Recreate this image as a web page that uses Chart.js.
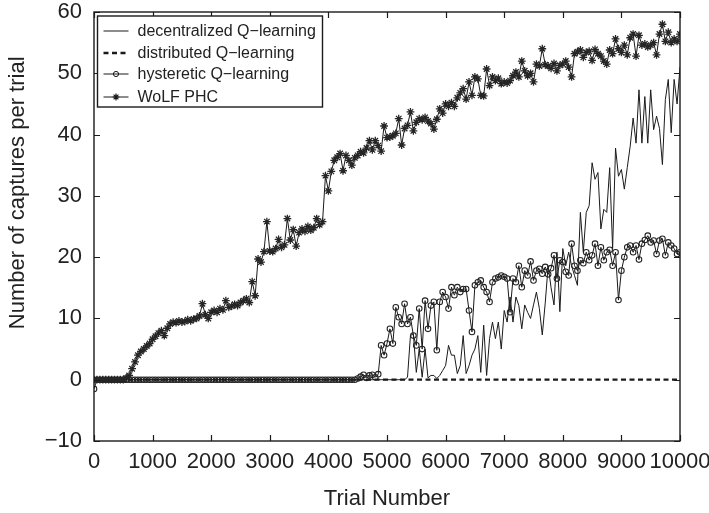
<!DOCTYPE html>
<html><head><meta charset="utf-8">
<script src="https://cdn.jsdelivr.net/npm/chart.js@4/dist/chart.umd.min.js"></script>
<style>html,body{margin:0;padding:0;background:#fff}canvas{display:block}</style>
</head><body>
<canvas id="c" width="709" height="513"></canvas>
<script>
const trials = [
0,50,100,150,200,250,300,350,400,450,500,
550,600,650,700,750,800,850,900,950,1000,
1050,1100,1150,1200,1250,1300,1350,1400,1450,1500,
1550,1600,1650,1700,1750,1800,1850,1900,1950,2000,
2050,2100,2150,2200,2250,2300,2350,2400,2450,2500,
2550,2600,2650,2700,2750,2800,2850,2900,2950,3000,
3050,3100,3150,3200,3250,3300,3350,3400,3450,3500,
3550,3600,3650,3700,3750,3800,3850,3900,3950,4000,
4050,4100,4150,4200,4250,4300,4350,4400,4450,4500,
4550,4600,4650,4700,4750,4800,4850,4900,4950,5000,
5050,5100,5150,5200,5250,5300,5350,5400,5450,5500,
5550,5600,5650,5700,5750,5800,5850,5900,5950,6000,
6050,6100,6150,6200,6250,6300,6350,6400,6450,6500,
6550,6600,6650,6700,6750,6800,6850,6900,6950,7000,
7050,7100,7150,7200,7250,7300,7350,7400,7450,7500,
7550,7600,7650,7700,7750,7800,7850,7900,7950,8000,
8050,8100,8150,8200,8250,8300,8350,8400,8450,8500,
8550,8600,8650,8700,8750,8800,8850,8900,8950,9000,
9050,9100,9150,9200,9250,9300,9350,9400,9450,9500,
9550,9600,9650,9700,9750,9800,9850,9900,9950,10000];

const decentralized = [
0,0,0,0,0,0,0,0,0,0,0,
0,0,0,0,0,0,0,0,0,0,
0,0,0,0,0,0,0,0,0,0,
0,0,0,0,0,0,0,0,0,0,
0,0,0,0,0,0,0,0,0,0,
0,0,0,0,0,0,0,0,0,0,
0,0,0,0,0,0,0,0,0,0,
0,0,0,0,0,0,0,0,0,0,
0,0,0,0,0,0,0,0,0,0,
0,0,0,0,0,0,0,0,0,0,
0,0,0,0,0,0,0.4,7.2,7.5,1.2,
5.0,0.4,5.0,0.3,0.7,0.7,0.2,0.7,1.5,2.3,
5.6,4.0,4.0,1.0,2.3,7.2,1.0,2.3,4.0,5.0,
7.2,1.2,8.9,0.7,6.7,9.4,6.7,9.4,5.0,11.3,
9.4,13.5,9.4,13.5,12.1,8.3,12.2,11.0,10.0,12.2,
14.3,11.6,7.3,12.5,18.6,15.0,12.2,20.8,11.1,21.4,
18.6,20.8,18.6,17.0,15.4,27.3,20.8,27.3,28.4,35.4,
32.7,33.8,24.6,27.8,27.3,34.6,21.4,37.8,33.2,34.3,
31.1,34.6,38.1,42.7,38.6,47.3,38.6,46.2,38.6,47.3,
40.8,43.0,41.0,35.1,45.7,49.0,40.3,49.0,45.0,51.0];

const distributed = [
0,0,0,0,0,0,0,0,0,0,0,
0,0,0,0,0,0,0,0,0,0,
0,0,0,0,0,0,0,0,0,0,
0,0,0,0,0,0,0,0,0,0,
0,0,0,0,0,0,0,0,0,0,
0,0,0,0,0,0,0,0,0,0,
0,0,0,0,0,0,0,0,0,0,
0,0,0,0,0,0,0,0,0,0,
0,0,0,0,0,0,0,0,0,0,
0,0,0,0,0,0,0,0,0,0,
0,0,0,0,0,0,0,0,0,0,
0,0,0,0,0,0,0,0,0,0,
0,0,0,0,0,0,0,0,0,0,
0,0,0,0,0,0,0,0,0,0,
0,0,0,0,0,0,0,0,0,0,
0,0,0,0,0,0,0,0,0,0,
0,0,0,0,0,0,0,0,0,0,
0,0,0,0,0,0,0,0,0,0,
0,0,0,0,0,0,0,0,0,0,
0,0,0,0,0,0,0,0,0,0];

const hysteretic = [
-1.5,0,0,0,0,0,0,0,0,0,0,
0,0,0,0,0,0,0,0,0,0,
0,0,0,0,0,0,0,0,0,0,
0,0,0,0,0,0,0,0,0,0,
0,0,0,0,0,0,0,0,0,0,
0,0,0,0,0,0,0,0,0,0,
0,0,0,0,0,0,0,0,0,0,
0,0,0,0,0,0,0,0,0,0,
0,0,0,0,0,0,0,0,0,0.2,
0.5,0.8,0.3,0.7,0.8,0.4,0.9,5.6,4.0,5.9,
8.3,5.9,11.8,10.2,9.1,12.4,9.1,10.2,7.2,5.6,
11.6,5.0,12.9,8.3,12.1,12.7,4.8,12.7,14.3,13.5,
11.6,15.1,13.8,15.1,14.3,14.8,14.8,11.3,7.8,15.4,
15.9,16.2,15.1,14.3,12.7,15.9,16.5,16.7,17.0,16.8,
16.5,11.0,16.5,15.9,18.6,15.1,17.8,17.0,19.3,16.2,
17.8,18.1,17.3,18.4,17.2,18.2,20.3,16.5,19.5,19.2,
17.6,17.0,22.2,18.6,17.8,19.5,19.0,20.8,19.5,20.3,
22.2,18.6,21.6,19.5,20.8,21.2,18.6,20.8,13.0,17.8,
20.0,21.6,21.9,20.8,21.9,19.6,22.2,22.8,23.5,22.4,
22.7,20.5,22.7,23.0,20.3,22.4,21.9,21.4,20.5,20.8];

const wolfPHC = [
0,0,0,0,0,0,0,0,0,0,0,
0.3,0.7,1.8,2.9,4.0,4.6,5.0,5.5,5.9,6.6,
7.1,7.6,8.0,7.2,8.4,9.1,9.4,9.3,9.6,9.4,
9.5,9.8,9.6,9.9,10.0,10.4,12.4,10.6,10.0,11.0,
11.3,11.0,11.6,11.4,12.9,11.8,12.0,12.3,12.1,12.6,
12.9,13.2,12.6,16.0,13.7,19.7,19.2,20.9,25.8,21.0,
20.9,21.4,22.9,21.6,22.0,26.3,22.8,24.5,21.8,24.0,
24.6,24.2,25.0,24.4,24.8,26.3,25.3,25.8,33.3,30.8,
34.0,35.8,36.3,36.9,34.1,36.6,35.8,35.0,36.2,36.6,
37.2,37.0,37.8,39.0,37.5,39.0,38.2,37.3,41.4,39.5,
39.6,39.8,40.2,42.6,38.3,41.0,41.5,43.7,40.6,42.0,
42.6,42.4,42.8,42.2,41.8,40.9,42.5,44.2,43.5,45.0,
44.6,45.2,44.6,46.0,46.8,47.5,45.8,48.6,46.4,49.4,
49.1,46.4,46.3,50.7,48.0,49.4,48.8,49.2,48.3,48.6,
48.4,48.8,49.6,50.2,49.4,52.0,50.4,49.6,50.0,48.6,
51.5,51.2,54.0,51.4,51.2,50.8,51.6,50.4,51.3,51.5,
52.0,51.0,49.4,53.2,53.5,53.8,52.6,53.4,53.6,52.1,
53.9,53.2,52.8,52.0,51.5,53.8,53.2,55.6,54.0,53.4,
54.6,53.0,55.8,56.4,52.8,56.2,54.6,54.8,54.3,54.6,
55.0,53.0,56.4,58.0,55.2,56.7,55.0,55.6,55.2,56.4];

const seriesNames = ['decentralized Q\u2212learning','distributed Q\u2212learning','hysteretic Q\u2212learning','WoLF PHC'];
const xTitle = 'Trial Number';
const yTitle = 'Number of captures per trial';
const FONT = "'Liberation Sans', Arial, Helvetica, sans-serif";
const INK = '#1a1a1a';

function pts(vals){ return trials.map((t,i)=>({x:t,y:vals[i]})); }

function drawStar(ctx,cx,cy,r){
  ctx.beginPath();
  for(let k=0;k<4;k++){
    const a=k*Math.PI/4;
    ctx.moveTo(cx-r*Math.cos(a),cy-r*Math.sin(a));
    ctx.lineTo(cx+r*Math.cos(a),cy+r*Math.sin(a));
  }
  ctx.stroke();
}

const framePlugin = {
  id:'frame',
  afterDraw(chart){
    const {ctx, chartArea:a, scales:{x,y}} = chart;
    ctx.save();
    ctx.strokeStyle = INK; ctx.lineWidth = 1.4;
    ctx.strokeRect(a.left, a.top, a.right-a.left, a.bottom-a.top);
    const L = 6;
    ctx.beginPath();
    x.ticks.forEach(t=>{const p=Math.round(x.getPixelForValue(t.value))+0.5;
      ctx.moveTo(p,a.bottom); ctx.lineTo(p,a.bottom-L);
      ctx.moveTo(p,a.top); ctx.lineTo(p,a.top+L);});
    y.ticks.forEach(t=>{const p=Math.round(y.getPixelForValue(t.value))+0.5;
      ctx.moveTo(a.left,p); ctx.lineTo(a.left+L,p);
      ctx.moveTo(a.right,p); ctx.lineTo(a.right-L,p);});
    ctx.lineWidth = 1.2;
    ctx.stroke();

    // y axis title
    ctx.save();
    ctx.translate(18, y.getPixelForValue(30.5));
    ctx.rotate(-Math.PI/2);
    ctx.font = "22px " + FONT;
    ctx.fillStyle = '#222';
    ctx.textAlign = 'center'; ctx.textBaseline = 'middle';
    ctx.fillText(yTitle, 0, 0);
    ctx.restore();

    // legend box
    const bx = a.left+3.5, by = a.top+4, bw = 225, bh = 91;
    ctx.fillStyle = '#fff';
    ctx.fillRect(bx,by,bw,bh);
    ctx.lineWidth = 1.4; ctx.strokeStyle = INK;
    ctx.strokeRect(bx,by,bw,bh);
    const rows = [by+15, by+37, by+58, by+81];
    const sx0 = bx+6, sx1 = bx+31, sc = (sx0+sx1)/2;
    ctx.font = "16px " + FONT;
    ctx.textBaseline = 'middle';
    rows.forEach((ry,i)=>{
      ctx.save();
      ctx.strokeStyle = INK;
      if(i===1){ ctx.setLineDash([5,3.5]); ctx.lineWidth = 2.4; }
      else { ctx.lineWidth = 1; }
      ctx.beginPath(); ctx.moveTo(sx0,ry); ctx.lineTo(sx1,ry); ctx.stroke();
      ctx.setLineDash([]);
      if(i===2){ ctx.lineWidth=1; ctx.beginPath(); ctx.arc(sc,ry,2.6,0,Math.PI*2); ctx.stroke(); }
      if(i===3){ ctx.lineWidth=1.2; drawStar(ctx,sc,ry,3.4); }
      ctx.restore();
      ctx.fillStyle = '#222';
      ctx.fillText(seriesNames[i], bx+40, ry+1);
    });
    ctx.restore();
  }
};

new Chart(document.getElementById('c'), {
  type:'line',
  data:{datasets:[
    {label:seriesNames[3], data:pts(wolfPHC), borderColor:INK, borderWidth:1, pointStyle:'star', pointRadius:3.9, pointBorderColor:'#262626', pointBorderWidth:1.3, pointBackgroundColor:'#262626', tension:0},
    {label:seriesNames[2], data:pts(hysteretic), borderColor:INK, borderWidth:1, pointStyle:'circle', pointRadius:2.8, pointBorderColor:'#222', pointBorderWidth:1.05, pointBackgroundColor:'rgba(255,255,255,0)', tension:0},
    {label:seriesNames[0], data:pts(decentralized), borderColor:INK, borderWidth:1, pointRadius:0, tension:0},
    {label:seriesNames[1], data:pts(distributed), borderColor:INK, borderWidth:2.3, borderDash:[5,3.5], pointRadius:0, tension:0}
  ]},
  options:{
    responsive:false, animation:false, devicePixelRatio:1,
    layout:{padding:{top:12,right:29,left:0,bottom:0}},
    plugins:{legend:{display:false}, tooltip:{enabled:false}},
    scales:{
      x:{type:'linear', min:0, max:10000,
        grid:{display:false}, border:{display:false},
        ticks:{stepSize:1000, color:'#222', font:{family:FONT,size:22}, padding:0, maxRotation:0, autoSkip:false,
          callback:v=>String(v)},
        title:{display:true, text:xTitle, color:'#222', font:{family:FONT,size:22}, padding:{top:0,bottom:1}},
        afterFit:s=>{s.height=72; s.paddingLeft=0; s.paddingRight=0;}
      },
      y:{type:'linear', min:-10, max:60,
        grid:{display:false}, border:{display:false},
        ticks:{stepSize:10, color:'#222', font:{family:FONT,size:22}, padding:4,
          callback:v=>v<0?'\u2212'+Math.abs(v):String(v)},
        title:{display:false},
        afterFit:s=>{s.width=94; s.paddingTop=0; s.paddingBottom=0;}
      }
    }
  },
  plugins:[framePlugin]
});
</script>
</body></html>
